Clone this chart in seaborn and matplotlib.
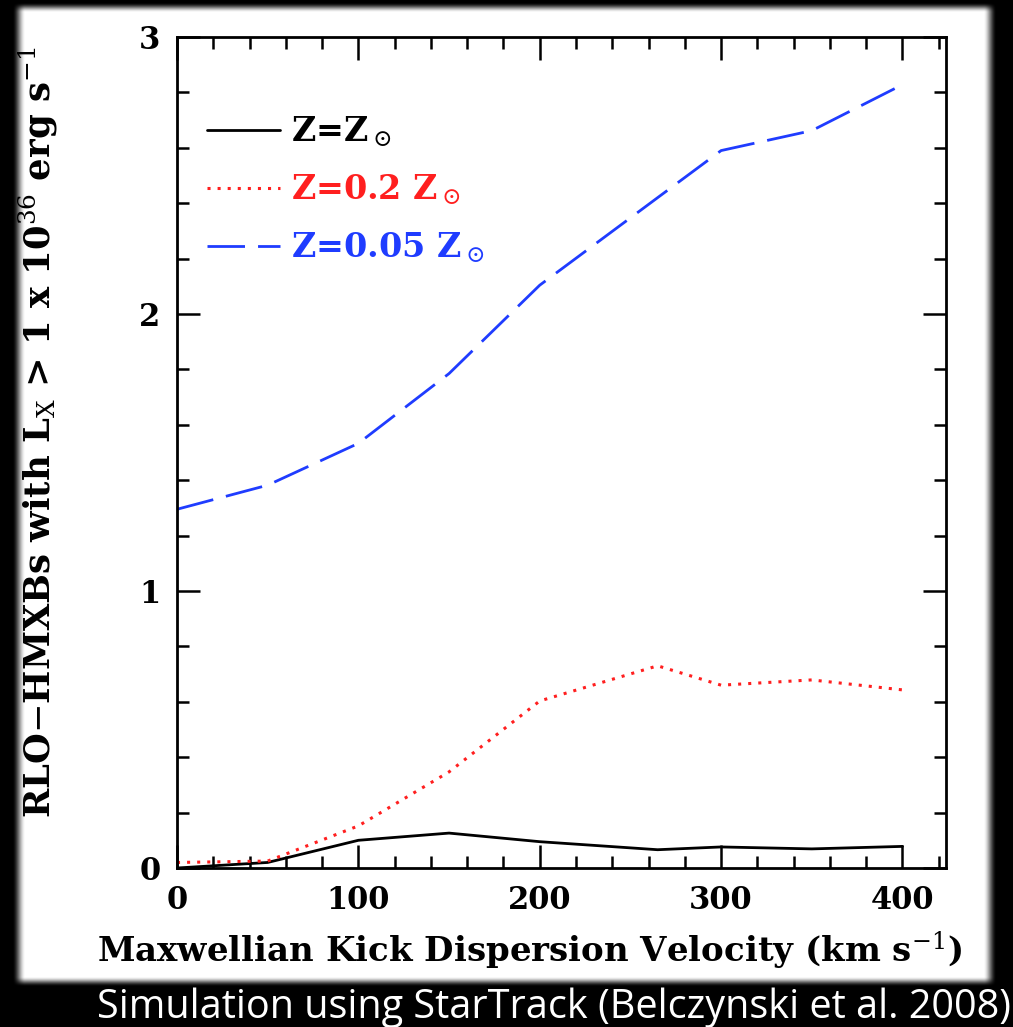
import numpy as np
import pandas as pd
import matplotlib
matplotlib.use("Agg")
import matplotlib.pyplot as plt
from matplotlib.ticker import MultipleLocator
import seaborn as sns

# Kick dispersion velocities (km/s) and number of RLO-HMXBs per metallicity
kick_velocity = [0, 50, 100, 150, 200, 265, 300, 350, 400]
n_solar = [0.0, 0.02, 0.10, 0.126, 0.095, 0.066, 0.076, 0.069, 0.078]
n_z02 = [0.02, 0.025, 0.152, 0.347, 0.603, 0.73, 0.66, 0.679, 0.643]
n_z005 = [1.295, 1.382, 1.533, 1.785, 2.104, 2.42, 2.59, 2.662, 2.828]

series_labels = [r"Z=Z$_\odot$", r"Z=0.2 Z$_\odot$", r"Z=0.05 Z$_\odot$"]
x_ticks = [0, 100, 200, 300, 400]
y_ticks = [0, 1, 2, 3]

sns.set_style("ticks")
plt.rcParams["font.family"] = ["DejaVu Serif"]
plt.rcParams["mathtext.fontset"] = "dejavuserif"
plt.rcParams["text.color"] = "black"
plt.rcParams["axes.labelcolor"] = "black"
plt.rcParams["xtick.color"] = "black"
plt.rcParams["ytick.color"] = "black"

W, H = 1013, 1027
fig = plt.figure(figsize=(W / 100, H / 100), dpi=100, facecolor="black")

# soft-edged white panel on the black page
def soft_edge(coord, lo, hi, width):
    a = np.clip((coord - lo) / width, 0, 1)
    b = np.clip((hi - coord) / width, 0, 1)
    s = lambda t: t * t * (3 - 2 * t)
    return s(a) * s(b)

sx = soft_edge(np.arange(W), 12, 996, 13)
sy = soft_edge(np.arange(H), 2, 986, 10)
mask = np.outer(sy, sx)
panel = np.dstack([mask, mask, mask])
fig.figimage(panel, 0, 0, origin="upper", zorder=-5)

ax = fig.add_axes([177 / W, 1 - 868 / H, (946 - 177) / W, (868 - 37) / H])
ax.set_facecolor("white")

df = pd.DataFrame({
    "v": kick_velocity * 3,
    "n": n_solar + n_z02 + n_z005,
    "grp": [series_labels[0]] * 9 + [series_labels[1]] * 9 + [series_labels[2]] * 9,
})

styles = [
    dict(color="black", lw=2.0, ls="-"),
    dict(color="#ff1f1f", lw=2.2, ls=(0, (1, 2.3))),
    dict(color="#1f3cff", lw=2.0, ls=(0, (13.5, 4.7))),
]
for lab, st in zip(series_labels, styles):
    sub = df[df["grp"] == lab]
    sns.lineplot(data=sub, x="v", y="n", ax=ax, color=st["color"],
                 linewidth=st["lw"], linestyle=st["ls"], label=lab,
                 estimator=None, sort=False)

ax.set_xlim(0, 424)
ax.set_ylim(0, 3)
ax.set_xticks(x_ticks)
ax.set_yticks(y_ticks)
ax.xaxis.set_minor_locator(MultipleLocator(20))
ax.yaxis.set_minor_locator(MultipleLocator(0.2))
ax.tick_params(which="both", direction="in", top=True, right=True,
               color="black", labelcolor="black", width=1.8)
ax.tick_params(which="major", length=16.5, labelsize=22, pad=12)
ax.tick_params(which="minor", length=8.5)
for lbl in ax.get_xticklabels() + ax.get_yticklabels():
    lbl.set_fontweight("bold")
for sp in ax.spines.values():
    sp.set_linewidth(2.0)
    sp.set_color("black")

ax.set_xlabel(r"Maxwellian Kick Dispersion Velocity (km s$^{-1}$)",
              fontsize=24.5, fontweight="bold", color="black")
ax.set_ylabel(r"RLO$-$HMXBs with L$_{\rm X}$ > 1 x 10$^{36}$ erg s$^{-1}$",
              fontsize=25.5, fontweight="bold", color="black")
ax.xaxis.set_label_coords((530 - 177) / 769, (868 - 930) / 831)
ax.yaxis.set_label_coords((60 - 177) / 769, (868 - 432) / 831)

leg = ax.legend(loc="upper left", bbox_to_anchor=(0.039, 0.907), frameon=False,
                prop=dict(size=24, weight="bold"), handlelength=2.2,
                handletextpad=0.33, labelspacing=0.72, borderpad=0,
                borderaxespad=0, labelcolor="linecolor")

fig.text(97 / W, 1 - 1018 / H, "Simulation using StarTrack (Belczynski et al. 2008)",
         color="white", fontsize=28.5, family="Open Sans", va="baseline", ha="left")

fig.savefig("out.png", dpi=100, facecolor="black")
